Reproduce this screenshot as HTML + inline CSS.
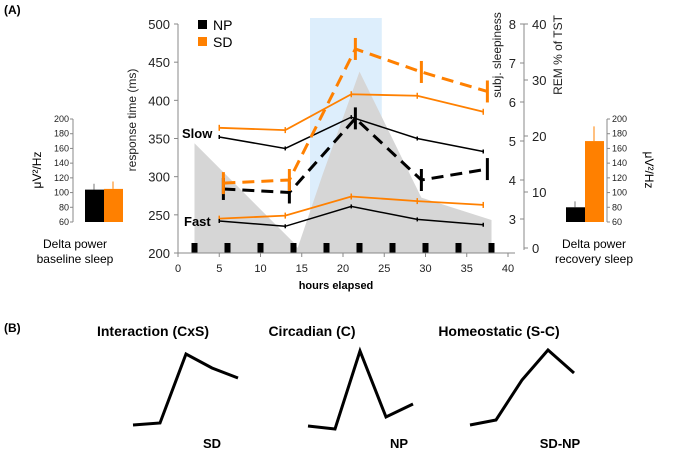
<!DOCTYPE html>
<html><head><meta charset="utf-8"><style>
body{margin:0;background:#fff}
svg{display:block;font-family:"Liberation Sans",Arial,sans-serif}
</style></head><body>
<svg id="s" width="685" height="452" xmlns="http://www.w3.org/2000/svg">
<text x="4" y="14" font-size="12" font-weight="bold">(A)</text>
<text x="4" y="332" font-size="12" font-weight="bold">(B)</text>
<g id="main"></g>
<g id="bars"></g>
<g id="pb"></g>
</svg>
<script>
const hours=[5,13,21,29,37];
const sdSlow=[364,361,408,406,385];
const npSlow=[352,337,378,350,333];
const sdFast=[245,249,274,268,263];
const npFast=[242,235,261,244,237];
const sleepHours=[5.5,13.5,21.5,29.5,37.5];
const sdSleep=[3.92,4.0,7.36,6.77,6.27];
const npSleep=[3.77,3.68,5.58,4.0,4.28];
const remHours=[2,14,14.5,17.5,22,29.5,38];
const remVals=[18.7,1,0,13,31.5,9,5];
const xTicks=[0,5,10,15,20,25,30,35,40];
const yTicks=[200,250,300,350,400,450,500];
const sleepTicks=[3,4,5,6,7,8];
const remTicks=[0,10,20,30,40];
const markHours=[2,6,10,14,18,22,26,30,34,38];
const baseVals=[104,105];
const recVals=[80,170];
const recErr=[8,20];
const baseErr=[8,10];
const NS="http://www.w3.org/2000/svg";
function mk(p,t,a,txt){const e=document.createElementNS(NS,t);for(const k in a)e.setAttribute(k,a[k]);if(txt!=null)e.textContent=txt;p.appendChild(e);return e;}
const X=h=>178+h*8.25, Y=v=>253-(v-200)*0.7633, YS=v=>219-(v-3)*39, YR=v=>248-v*5.6;
const m=document.getElementById('main');
let e=mk(m,'rect',{x:X(16),y:18,width:X(24.7)-X(16),height:235,fill:'#ddeefc'});


let pts=remHours.map((h,i)=>X(h)+','+YR(remVals[i]));
e=mk(m,'polygon',{points:X(2)+',253 '+pts.join(' ')+' '+X(38)+',253',fill:'#d6d6d6'});


markHours.forEach(h=>{e=mk(m,'rect',{x:X(h)-3,y:243,width:6,height:10,fill:'#000'});

});
mk(m,'line',{x1:178,y1:24,x2:178,y2:253,stroke:'#888'});
mk(m,'line',{x1:178,y1:253,x2:515,y2:253,stroke:'#888'});
mk(m,'line',{x1:524,y1:24,x2:524,y2:250,stroke:'#888'});
yTicks.forEach(v=>{mk(m,'line',{x1:174,y1:Y(v),x2:178,y2:Y(v),stroke:'#888'});
mk(m,'text',{x:170,y:Y(v)+5,'font-size':13,'text-anchor':'end',fill:'#222'},v);});
xTicks.forEach(v=>{mk(m,'line',{x1:X(v),y1:253,x2:X(v),y2:257,stroke:'#888'});
mk(m,'text',{x:X(v),y:272,'font-size':11,'text-anchor':'middle',fill:'#222'},v);});
sleepTicks.forEach(v=>{mk(m,'line',{x1:520,y1:YS(v),x2:524,y2:YS(v),stroke:'#888'});
mk(m,'text',{x:516,y:YS(v)+5,'font-size':13,'text-anchor':'end',fill:'#222'},v);});
remTicks.forEach(v=>{mk(m,'line',{x1:524,y1:YR(v),x2:528,y2:YR(v),stroke:'#888'});
mk(m,'text',{x:532,y:YR(v)+5,'font-size':13,fill:'#222'},v);});
e=mk(m,'text',{x:336,y:289,'font-size':11,'font-weight':'bold','text-anchor':'middle'},'hours elapsed');

e=mk(m,'text',{transform:'translate(136,120) rotate(-90)','font-size':12,'text-anchor':'middle',fill:'#222'},'response time (ms)');

e=mk(m,'text',{transform:'translate(501,55) rotate(-90)','font-size':12,'text-anchor':'middle',fill:'#222'},'subj. sleepiness');

e=mk(m,'text',{transform:'translate(562,55) rotate(-90)','font-size':12,'text-anchor':'middle',fill:'#222'},'REM % of TST');

function line(xs,ys,fx,fy,col,w,dash,name,eb){
 e=mk(m,'polyline',{points:xs.map((h,i)=>fx(h)+','+fy(ys[i])).join(' '),fill:'none',stroke:col,'stroke-width':w,'stroke-dasharray':dash||'none'});
 
 xs.forEach((h,i)=>{const y=fy(ys[i]);mk(m,'line',{x1:fx(h),y1:y-eb,x2:fx(h),y2:y+eb,stroke:col,'stroke-width':dash?3:1.5});});
}
line(hours,sdSlow,X,Y,'#ff8000',1.8,null,'sd-slow-line',3);
line(hours,npSlow,X,Y,'#000',1.5,null,'np-slow-line',2);
line(hours,sdFast,X,Y,'#ff8000',1.8,null,'sd-fast-line',3);
line(hours,npFast,X,Y,'#000',1.5,null,'np-fast-line',2);
line(sleepHours,npSleep,X,YS,'#000',3,'12,7','np-sleepiness-line',11);
line(sleepHours,sdSleep,X,YS,'#ff8000',3,'12,7','sd-sleepiness-line',11);
e=mk(m,'text',{x:182,y:138,'font-size':13,'font-weight':'bold'},'Slow');

e=mk(m,'text',{x:184,y:226,'font-size':13,'font-weight':'bold'},'Fast');

mk(m,'rect',{x:198,y:20,width:9,height:9,fill:'#000'});
e=mk(m,'text',{x:213,y:30,'font-size':14},'NP');
mk(m,'rect',{x:198,y:37,width:9,height:9,fill:'#ff8000'});
e=mk(m,'text',{x:213,y:47,'font-size':14},'SD');
const b=document.getElementById('bars');
const YB=v=>222-(v-60)*(103/140);
const bt=[60,80,100,120,140,160,180,200];
function barPanel(ax,left,x0,vals,errs,name,lab1,lab2,lx){
 mk(b,'line',{x1:ax,y1:119,x2:ax,y2:222,stroke:'#888'});
 bt.forEach(v=>{mk(b,'line',{x1:left?ax-3:ax,y1:YB(v),x2:left?ax:ax+3,y2:YB(v),stroke:'#888'});
  mk(b,'text',{x:left?ax-4:ax+5,y:YB(v)+3,'font-size':9,'text-anchor':left?'end':'start',fill:'#222'},v);});
 vals.forEach((v,i)=>{const c=i?'#ff8000':'#000';const x=x0+i*19;
  mk(b,'line',{x1:x+9,y1:YB(v+errs[i]),x2:x+9,y2:YB(v),stroke:i?'#ff8000':'#777'});
  e=mk(b,'rect',{x:x,y:YB(v),width:19,height:222-YB(v),fill:c});
  });
 e=mk(b,'text',{x:lx,y:248,'font-size':12,'text-anchor':'middle'},lab1);
 mk(b,'text',{x:lx,y:263,'font-size':12,'text-anchor':'middle'},lab2);
}
barPanel(73,true,85,baseVals,baseErr,'baseline','Delta power','baseline sleep',75);
barPanel(607,false,566,recVals,recErr,'recovery','Delta power','recovery sleep',594);
mk(b,'text',{transform:'translate(41,170) rotate(-90)','font-size':12,'text-anchor':'middle'},'\u03bcV\u00b2/Hz');
mk(b,'text',{transform:'translate(645,170) rotate(90)','font-size':12,'text-anchor':'middle'},'\u03bcV\u00b2/Hz');
const p=document.getElementById('pb');
const shapes=[['Interaction (CxS)',153,'SD',212,'133,425 160,423 186,354 212,368 238,378','interaction'],
['Circadian (C)',312,'NP',399,'308,426 335,429 360,351 386,417 413,404','circadian'],
['Homeostatic (S-C)',499,'SD-NP',560,'470,425 496,420 522,380 548,350 574,373','homeostatic']];
shapes.forEach(s=>{
 e=mk(p,'text',{x:s[1],y:336,'font-size':14,'font-weight':'bold','text-anchor':'middle'},s[0]);
 e=mk(p,'polyline',{points:s[4],fill:'none',stroke:'#000','stroke-width':3});
 e=mk(p,'text',{x:s[3],y:448,'font-size':13,'font-weight':'bold','text-anchor':'middle'},s[2]);
});
</script>
</body></html>
